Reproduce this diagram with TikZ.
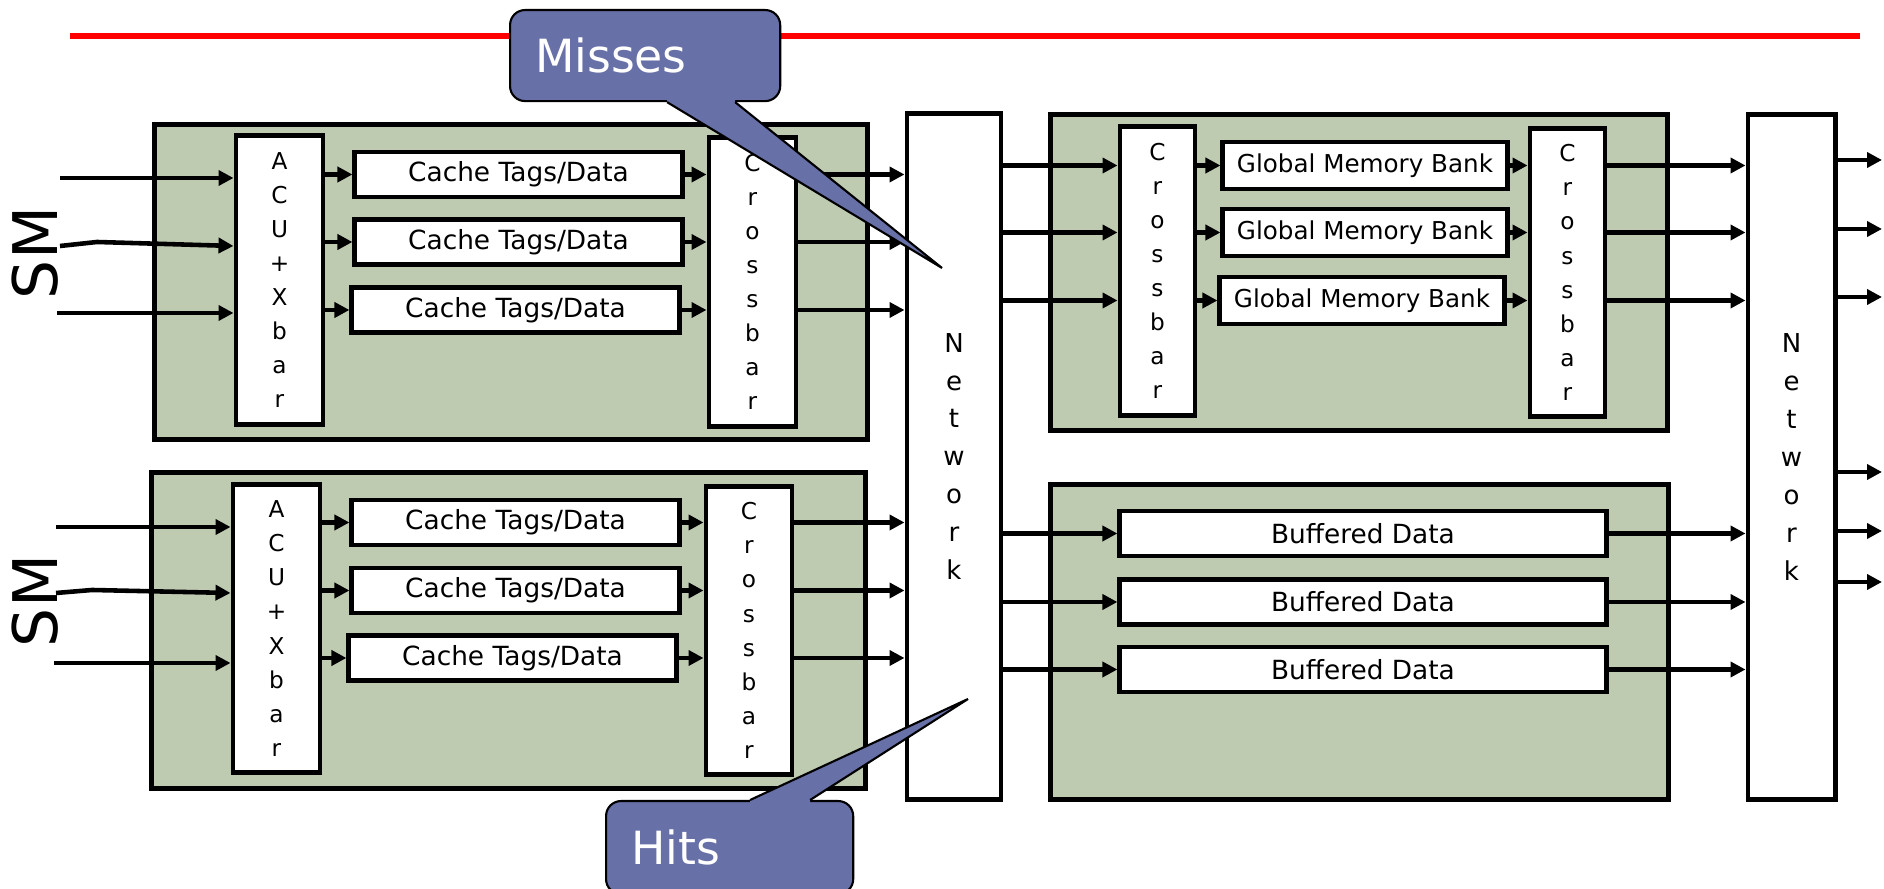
\documentclass[tikz,border=0pt]{standalone}
\usepackage{fontspec}
\setsansfont{DejaVu Sans}
\usetikzlibrary{arrows.meta,positioning}
\definecolor{smgreen}{RGB}{190,203,177}
\definecolor{tipblue}{RGB}{104,112,168}

\begin{document}
\begin{tikzpicture}[x=0.01cm, y=-0.01cm, >={Triangle[length=1.5mm,width=1.5mm]},
    smunit/.style = {draw, line width=1.4pt, fill=smgreen, inner sep=0pt},
    cell/.style = {draw, line width=1.4pt, fill=white, inner sep=0pt, font=\sffamily\fontsize{7.5pt}{9pt}\selectfont},
    cache/.style = {cell, minimum width=3.27cm, minimum height=0.45cm},
    bank/.style = {cell, minimum width=2.84cm, minimum height=0.47cm, font=\sffamily\fontsize{7pt}{9pt}\selectfont},
    buffer/.style = {cell, minimum width=4.86cm, minimum height=0.45cm},
    bar/.style = {cell, align=center, minimum height=2.88cm, font=\sffamily\fontsize{6.6pt}{9.7pt}\selectfont},
    netbox/.style = {cell, align=center, minimum height=6.85cm, font=\sffamily\fontsize{7.4pt}{10.8pt}\selectfont},
    link/.style = {->, line width=1.3pt},
    sm/.style = {rotate=90, font=\sffamily\fontsize{17.5pt}{20pt}\selectfont},
    bubble/.style = {draw, line width=0.6pt, fill=tipblue, rounded corners=0.15cm, inner xsep=0.25cm, inner ysep=0pt,
        align=left, text=white, anchor=north west, font=\sffamily\fontsize{13pt}{15pt}\selectfont}]
\useasboundingbox (0,0) rectangle (1884,889);
\draw[red, line width=1.5pt] (70,36) -- (1860,36);

\node[smunit, minimum width=7.12cm, minimum height=3.14cm] (smA) at (511,282) {};
\node[bar, minimum width=0.87cm] (acu1) at (279.5,280) {A\\C\\U\\+\\X\\b\\a\\r};
\node[cache] (c11) at (518.5,174.5) {Cache Tags/Data};
\node[cache] (c12) at (518.5,242) {Cache Tags/Data};
\node[cache] (c13) at (515.5,310) {Cache Tags/Data};
\node[bar, minimum width=0.87cm] (xb1) at (752.5,282) {C\\r\\o\\s\\s\\b\\a\\r};
\node[sm] (sm1) at (35,253) {SM};

\node[smunit, minimum width=7.13cm, minimum height=3.15cm] (smB) at (508.5,630.5) {};
\node[bar, minimum width=0.87cm, minimum height=2.87cm] (acu2) at (276.5,628.5) {A\\C\\U\\+\\X\\b\\a\\r};
\node[cache] (c21) at (515.5,522.5) {Cache Tags/Data};
\node[cache] (c22) at (515.5,590.5) {Cache Tags/Data};
\node[cache] (c23) at (512.5,658) {Cache Tags/Data};
\node[bar, minimum width=0.86cm, minimum height=2.87cm] (xb2) at (749,630.5) {C\\r\\o\\s\\s\\b\\a\\r};
\node[sm] (sm2) at (35,601) {SM};

\node[netbox, minimum width=0.94cm] (net1) at (954,456.5) {N\\e\\t\\w\\o\\r\\k};

\node[smunit, minimum width=6.16cm, minimum height=3.15cm] (gmem) at (1359,272.5) {};
\node[bar, minimum width=0.75cm] (xa) at (1157.5,271) {C\\r\\o\\s\\s\\b\\a\\r};
\node[bank] (m1) at (1365,165.5) {Global Memory Bank};
\node[bank] (m2) at (1365,232.5) {Global Memory Bank};
\node[bank] (m3) at (1362,300.5) {Global Memory Bank};
\node[bar, minimum width=0.75cm, minimum height=2.87cm] (xbb) at (1567.5,272.5) {C\\r\\o\\s\\s\\b\\a\\r};

\node[smunit, minimum width=6.17cm, minimum height=3.14cm] (bufs) at (1359.5,642) {};
\node[buffer] (b1) at (1363,533.5) {Buffered Data};
\node[buffer] (b2) at (1363,602) {Buffered Data};
\node[buffer] (b3) at (1363,669.5) {Buffered Data};

\node[netbox, minimum width=0.87cm, minimum height=6.84cm] (net2) at (1791.5,457) {N\\e\\t\\w\\o\\r\\k};

\coordinate (in11) at (60,178);
\coordinate (in12) at (60,246);
\coordinate (in13) at (57,313);
\coordinate (in21) at (56,527);
\coordinate (in22) at (56,593);
\coordinate (in23) at (54,663);
\coordinate (out1) at (1882,160);
\coordinate (out2) at (1882,229);
\coordinate (out3) at (1882,297);
\coordinate (out4) at (1882,472);
\coordinate (out5) at (1882,531);
\coordinate (out6) at (1882,582);

\draw[link] (in11) -- (acu1.west |- in11);
\draw[link] (in12) -- ++(37,-4) -- (acu1.west |- in12);
\draw[link] (in13) -- (acu1.west |- in13);
\draw[link] (acu1.east |- c11.west) -- (c11.west);
\draw[link] (acu1.east |- c12.west) -- (c12.west);
\draw[link] (acu1.east |- c13.west) -- (c13.west);
\draw[link] (c11.east) -- (xb1.west |- c11.east);
\draw[link] (c12.east) -- (xb1.west |- c12.east);
\draw[link] (c13.east) -- (xb1.west |- c13.east);
\draw[link] (xb1.east |- c11.east) -- (net1.west |- c11.east);
\draw[link] (xb1.east |- c12.east) -- (net1.west |- c12.east);
\draw[link] (xb1.east |- c13.east) -- (net1.west |- c13.east);

\draw[link] (in21) -- (acu2.west |- in21);
\draw[link] (in22) -- ++(36,-3) -- (acu2.west |- in22);
\draw[link] (in23) -- (acu2.west |- in23);
\draw[link] (acu2.east |- c21.west) -- (c21.west);
\draw[link] (acu2.east |- c22.west) -- (c22.west);
\draw[link] (acu2.east |- c23.west) -- (c23.west);
\draw[link] (c21.east) -- (xb2.west |- c21.east);
\draw[link] (c22.east) -- (xb2.west |- c22.east);
\draw[link] (c23.east) -- (xb2.west |- c23.east);
\draw[link] (xb2.east |- c21.east) -- (net1.west |- c21.east);
\draw[link] (xb2.east |- c22.east) -- (net1.west |- c22.east);
\draw[link] (xb2.east |- c23.east) -- (net1.west |- c23.east);

\draw[link] (net1.east |- m1.west) -- (xa.west |- m1.west);
\draw[link] (net1.east |- m2.west) -- (xa.west |- m2.west);
\draw[link] (net1.east |- m3.west) -- (xa.west |- m3.west);
\draw[link] (xa.east |- m1.west) -- (m1.west);
\draw[link] (xa.east |- m2.west) -- (m2.west);
\draw[link] (xa.east |- m3.west) -- (m3.west);
\draw[link] (m1.east) -- (xbb.west |- m1.east);
\draw[link] (m2.east) -- (xbb.west |- m2.east);
\draw[link] (m3.east) -- (xbb.west |- m3.east);
\draw[link] (xbb.east |- m1.east) -- (net2.west |- m1.east);
\draw[link] (xbb.east |- m2.east) -- (net2.west |- m2.east);
\draw[link] (xbb.east |- m3.east) -- (net2.west |- m3.east);

\draw[link] (net1.east |- b1.west) -- (b1.west);
\draw[link] (net1.east |- b2.west) -- (b2.west);
\draw[link] (net1.east |- b3.west) -- (b3.west);
\draw[link] (b1.east) -- (net2.west |- b1.east);
\draw[link] (b2.east) -- (net2.west |- b2.east);
\draw[link] (b3.east) -- (net2.west |- b3.east);

\draw[link] (net2.east |- out1) -- (out1);
\draw[link] (net2.east |- out2) -- (out2);
\draw[link] (net2.east |- out3) -- (out3);
\draw[link] (net2.east |- out4) -- (out4);
\draw[link] (net2.east |- out5) -- (out5);
\draw[link] (net2.east |- out6) -- (out6);

\node[bubble, text width=2.2cm, minimum height=0.91cm] (misses) at (509,9) {Misses};
\coordinate (misstip) at (942,268);
\fill[tipblue] ([xshift=1.58cm]misses.south west) -- (misstip) -- ([xshift=2.26cm]misses.south west)
    -- ([xshift=2.26cm,yshift=0.05cm]misses.south west) -- ([xshift=1.58cm,yshift=0.05cm]misses.south west) -- cycle;
\draw[line width=0.6pt] ([xshift=1.58cm]misses.south west) -- (misstip) -- ([xshift=2.26cm]misses.south west);

\node[bubble, text width=1.97cm, minimum height=0.93cm] (hits) at (605,800) {Hits};
\coordinate (hittip) at (968,699);
\fill[tipblue] ([xshift=1.45cm]hits.north west) -- (hittip) -- ([xshift=2.05cm]hits.north west)
    -- ([xshift=2.05cm,yshift=-0.05cm]hits.north west) -- ([xshift=1.45cm,yshift=-0.05cm]hits.north west) -- cycle;
\draw[line width=0.6pt] ([xshift=1.45cm]hits.north west) -- (hittip) -- ([xshift=2.05cm]hits.north west);
\end{tikzpicture}
\end{document}
